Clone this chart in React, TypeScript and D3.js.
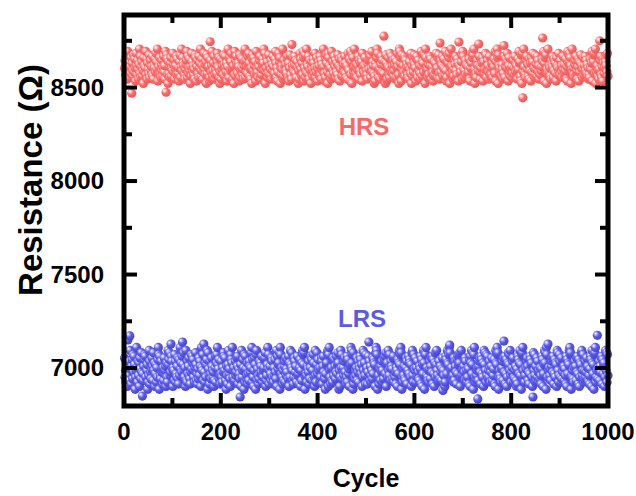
import React from "react";
import * as d3 from "d3";

// ---- data (each char = one cycle, level a..x) ----
const LEVELS = "abcdefghijklmnopqrstuvwx";
// relative offset of each level (fraction of the band half-width)
const LEVEL_OFFSETS = [
  -1.0, -0.86, -0.75, -0.66, -0.58, -0.5, -0.42, -0.34, -0.26, -0.18, -0.1, -0.03,
  0.03, 0.1, 0.18, 0.26, 0.34, 0.42, 0.5, 0.58, 0.66, 0.75, 0.86, 1.0,
];
const hrsCenter = 8614;
const hrsHalf = 92;
const lrsCenter = 6998;
const lrsHalf = 112;

const hrsCodes = [
  "kqfmtchwnjpdlgsaoieuhrkbvmfqjcnxgtdlpeiasmhkwfrcoj",
  "gudnqilftecmkrhvpjxbolfsgdniqekthmcwjurfapgldoseki",
  "vnhqcjmtfregkbpudlxisomhfcjnqwdtgkrialevphmfjcusnb",
  "lqgdtkoxeirmchvjnfpaugsklbdrqhmweiotcfjngpvlksdahr",
  "cjmqfunetkhoblxgdrsipvjkcmafwqetnhgolbudiskrfjcmpx",
  "dqhlgtnvoejckaruismfpbwgkhdnlqtecfjmroxivahkspdgul",
  "mfjqcnitlegrwodkbhuvpsakfmjxceqlhnigrtdobkuefcvmsj",
  "hntgqdlpkaicmvrjeofwsbkudhxgnltfcqiampjerogkvdhslb",
  "jpmetfqcnikxlgbdruohavsmjfkcwepigtnlqdhofucmrbkjse",
  "qeknhtgodlmcvjirbwfpaushkxlegndjmtcqiofrpbvkhmgsle",
  "ifcnqjrutdkwhpmgaebolsxvfdkijcnthqegrmpauobclskfdv",
  "hjtmgqeinrcdpkvlfaxwosbujgmhterqinkfdlcpjgvameshou",
  "nkbrtfdqjimgcwlepohvuaxsikjdnfqtmrcglhbepfoivjkdsu",
  "gclqhnmtekrjfwibdpuosvagkxmlhcejqntidfroblmgkhpucw",
  "tjdiqfnmeglhrcbkpovswuxjafgdnqmietlchkrosbpfgjvudk",
  "qmhctiekfnodjlrgwbpvxsaumkhfienjcgqtdlrokvpbmsfehj",
  "ldgsqkfthnmicrjwopebuavkhxlgfdqtjnemcriobshpvgkduf",
  "jnetqhmcgfkilrdpwbosvuajgxfhmkecqnltdirpogbsmkfvhj",
  "fqkmhdtjnegirclbwoupvsmajxhkfdnqetgiclrbphoukmdjsf",
  "mhtiqgnekcfdrljowbspuvgxahkmeicjnqtfdlbrogkspmuhve",
];

const lrsCodes = [
  "sgkdpmbvhqeiwlcnrfujtoagkxmdqhpbslfvjcienrutgmkoad",
  "hwqcjflsnevkpbiodmgrxuathfqjlcmesiknbpgdworvhjftql",
  "bmkeuqdignsfcrhxlpjtaovkgmbwedqinshfcjultprgkdmvoe",
  "iclfshqnbxmkuetjdpgorwavlhcqifsnkgjbemtdpuxolrfhci",
  "qgdmjvtkseanhcowilfburpxgkmdeqhjsntclifvobwgkrmaud",
  "tlfhpcieqnjmvxdrgbksoauwelhcfqipnjtdgkmrsvbehoxluc",
  "kniesqgcdmhrjfwbtlopvaxuimgckenqdshljrftbpgwomvkec",
  "gsqjnfdthilcmrbkepwuovxagihdnljqcfmtsrekupgbwhdovi",
  "rlkdmegsqcntjhfaiopvwbuxkgclmedshqrnfjtiovpakbgwmu",
  "fkmhqsjecgtdrilbnoxwpuavcgfkhmsejqdnltriobgwkvphcu",
  "lmcjtgqenhdkfsirpobvxwuaghcmlenjqkdfsrtivbopgwkhum",
  "eqnlfstdhgjcmkbripwouxvagdlhnfemsqcjktirpgobvwhdul",
  "ksdmgqhjfenltcrboiwpavuxhmgekdlqfnsjtcribpvgowkhde",
  "qgfnjelsmkhcbdtriwpouxavlkmfghdseqnjcritoupvbgwhkl",
  "hnjesqfkdgmlcrbtpwiovauxgdfhkmlenqsjctrigpbwovkduh",
  "tfkgqmdjnseihlrcbwpoxuvagkhfdlmqesnjtcirbgpvoukwhd",
  "jmqsdgfkneblctripwhoauvxkfgdhmlqsnejcitropgbwvkuhd",
  "nesgqjkdfmhcltrbiowpvaxugdkmfhlenqsjtcirgpobwvkdhu",
  "qgdsfkjmnelhctbripowxuvahgkfdmqlnesjticrbgpovwhkud",
  "fkqgjsmnedhcltrbwpioauvxdgkhfmlqenjstcriopbgwkvduh",
];

// outliers: [cycle, resistance]
const hrsOutliers: [number, number][] = [
  [16, 8470], [87, 8475], [178, 8745], [347, 8730], [537, 8775], [653, 8738],
  [692, 8743], [733, 8733], [785, 8725], [824, 8445], [865, 8765], [983, 8750],
];
const lrsOutliers: [number, number][] = [
  [8, 7150], [12, 7172], [38, 6850], [97, 7128], [121, 7139], [165, 7128],
  [240, 6845], [506, 7139], [659, 6880], [673, 7123], [731, 6835], [785, 7144],
  [845, 6845], [876, 7128], [978, 7175],
];

const xTicks = [0, 200, 400, 600, 800, 1000];
const xMinor = [100, 300, 500, 700, 900];
const yTicks = [7000, 7500, 8000, 8500];
const yMinor = [7250, 7750, 8250, 8750];

function decode(codes: string[], center: number, half: number, outliers: [number, number][]) {
  const s = codes.join("");
  const n = s.length;
  const pts = s.split("").map((c, i) => ({
    cycle: 1 + (i * 999) / (n - 1),
    value: center + LEVEL_OFFSETS[LEVELS.indexOf(c)] * half,
  }));
  outliers.forEach(([cy, v]) => {
    const idx = Math.round(((cy - 1) * (n - 1)) / 999);
    if (pts[idx]) pts[idx] = { cycle: pts[idx].cycle, value: v };
  });
  return pts;
}

const hrs = decode(hrsCodes, hrsCenter, hrsHalf, hrsOutliers);
const lrs = decode(lrsCodes, lrsCenter, lrsHalf, lrsOutliers);

const W = 636;
const H = 496;
const L = 124, R = 608, T = 15, B = 406;

export default function App() {
  const x = d3.scaleLinear().domain([0, 1000]).range([L, R]);
  const y = d3.scaleLinear().domain([6797, 8888]).range([B, T]);
  const font = "'Liberation Sans', Arial, sans-serif";
  const r = 4.6;

  return (
    <svg width={W} height={H} style={{ position: "absolute", left: 0, top: 0, background: "#fff" }}>
      <defs>
        <radialGradient id="gH" cx="0.38" cy="0.38" r="0.62" fx="0.3" fy="0.3">
          <stop offset="0" stopColor="#ffffff" />
          <stop offset="0.22" stopColor="#ffc4c4" />
          <stop offset="0.5" stopColor="#fb6e6e" />
          <stop offset="1" stopColor="#e85a5a" />
        </radialGradient>
        <radialGradient id="gL" cx="0.38" cy="0.38" r="0.62" fx="0.3" fy="0.3">
          <stop offset="0" stopColor="#ffffff" />
          <stop offset="0.22" stopColor="#b4b4ff" />
          <stop offset="0.5" stopColor="#5e5ee8" />
          <stop offset="1" stopColor="#4444c8" />
        </radialGradient>
      </defs>

      <g>
        {hrs.map((p, i) => (
          <circle key={"h" + i} cx={x(p.cycle)} cy={y(p.value)} r={r} fill="url(#gH)" />
        ))}
        {lrs.map((p, i) => (
          <circle key={"l" + i} cx={x(p.cycle)} cy={y(p.value)} r={r} fill="url(#gL)" />
        ))}
      </g>

      {/* frame */}
      <rect x={L} y={T} width={R - L} height={B - T} fill="none" stroke="#000" strokeWidth={5} />

      {/* x ticks */}
      {xTicks.map((t) => (
        <g key={"xt" + t}>
          <line x1={x(t)} x2={x(t)} y1={B} y2={B - 13} stroke="#000" strokeWidth={4} />
          <line x1={x(t)} x2={x(t)} y1={T} y2={T + 13} stroke="#000" strokeWidth={4} />
          <text x={x(t)} y={440} textAnchor="middle" fontFamily={font} fontWeight="bold" fontSize={24}>
            {t}
          </text>
        </g>
      ))}
      {xMinor.map((t) => (
        <g key={"xm" + t}>
          <line x1={x(t)} x2={x(t)} y1={B} y2={B - 8} stroke="#000" strokeWidth={4} />
          <line x1={x(t)} x2={x(t)} y1={T} y2={T + 8} stroke="#000" strokeWidth={4} />
        </g>
      ))}
      {/* y ticks */}
      {yTicks.map((t) => (
        <g key={"yt" + t}>
          <line x1={L} x2={L + 13} y1={y(t)} y2={y(t)} stroke="#000" strokeWidth={4} />
          <line x1={R} x2={R - 13} y1={y(t)} y2={y(t)} stroke="#000" strokeWidth={4} />
          <text x={104} y={y(t)} dy="0.35em" textAnchor="end" fontFamily={font} fontWeight="bold" fontSize={24}>
            {t}
          </text>
        </g>
      ))}
      {yMinor.map((t) => (
        <g key={"ym" + t}>
          <line x1={L} x2={L + 8} y1={y(t)} y2={y(t)} stroke="#000" strokeWidth={4} />
          <line x1={R} x2={R - 8} y1={y(t)} y2={y(t)} stroke="#000" strokeWidth={4} />
        </g>
      ))}

      {/* labels */}
      <text x={364} y={135} textAnchor="middle" fontFamily={font} fontWeight="bold" fontSize={24} fill="#f86a6a">
        HRS
      </text>
      <text x={362} y={327} textAnchor="middle" fontFamily={font} fontWeight="bold" fontSize={24} fill="#5b5be0">
        LRS
      </text>

      <text x={366} y={487} textAnchor="middle" fontFamily={font} fontWeight="bold" fontSize={25}>
        Cycle
      </text>
      <text
        transform={`translate(42, 180) rotate(-90)`}
        textAnchor="middle"
        fontFamily={font}
        fontWeight="bold"
        fontSize={33}
      >
        Resistance (Ω)
      </text>
    </svg>
  );
}
